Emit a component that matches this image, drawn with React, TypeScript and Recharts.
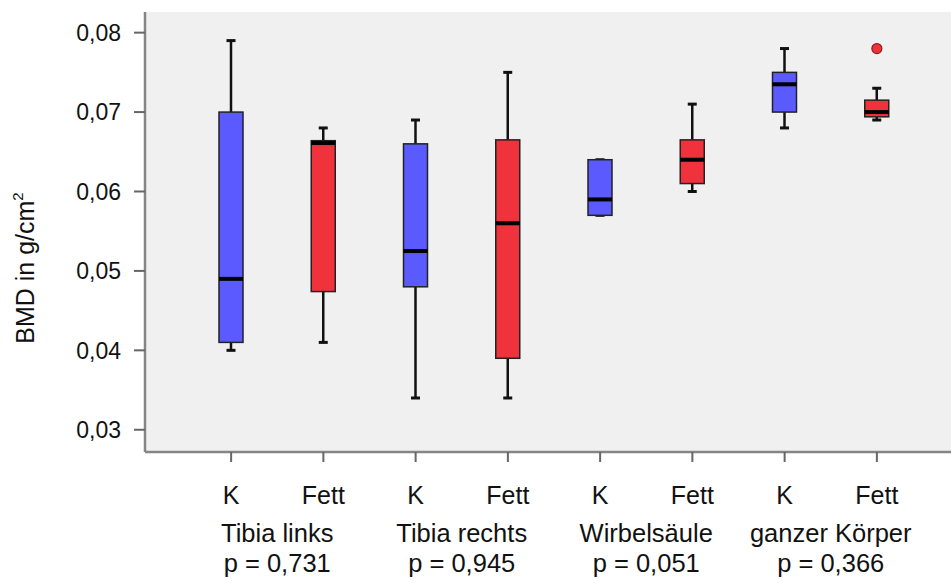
import React from 'react';
import {
  ComposedChart,
  Bar,
  Scatter,
  XAxis,
  YAxis,
  CartesianGrid,
} from 'recharts';

const categories = ['K', 'Fett', 'K', 'Fett', 'K', 'Fett', 'K', 'Fett'];
const groups = ['Tibia links', 'Tibia rechts', 'Wirbelsäule', 'ganzer Körper'];
const pValues = ['p = 0,731', 'p = 0,945', 'p = 0,051', 'p = 0,366'];

const whiskerLow = [0.04, 0.041, 0.034, 0.034, 0.057, 0.06, 0.068, 0.069];
const q1 = [0.041, 0.0474, 0.048, 0.039, 0.057, 0.061, 0.07, 0.0694];
const median = [0.049, 0.0661, 0.0525, 0.056, 0.059, 0.064, 0.0735, 0.07];
const q3 = [0.07, 0.0664, 0.066, 0.0665, 0.064, 0.0665, 0.075, 0.0715];
const whiskerHigh = [0.079, 0.068, 0.069, 0.075, 0.064, 0.071, 0.078, 0.073];
const outliers: (number | undefined)[] = [undefined, undefined, undefined, undefined, undefined, undefined, undefined, 0.078];

const yTicks = [0.03, 0.04, 0.05, 0.06, 0.07, 0.08];

const BLUE = '#5a5aff';
const RED = '#f0323c';
const FONT = '"Liberation Sans", Arial, sans-serif';

const data = categories.map((c, i) => ({
  key: `${c}-${i}`,
  label: c,
  low: whiskerLow[i],
  q1: q1[i],
  median: median[i],
  q3: q3[i],
  high: whiskerHigh[i],
  outlier: outliers[i],
  color: i % 2 === 0 ? BLUE : RED,
}));

const BoxShape = (props: any) => {
  const { x, y, width, height, payload } = props;
  const top = Math.min(y, y + height);
  const h = Math.abs(height);
  const k = h / (payload.q3 - payload.q1);
  const py = (v: number) => top + (payload.q3 - v) * k;
  const cx = x + width / 2;
  const cap = 4.5;
  return (
    <g>
      <line x1={cx} x2={cx} y1={py(payload.high)} y2={top} stroke="#111" strokeWidth={2.5} />
      <line x1={cx} x2={cx} y1={top + h} y2={py(payload.low)} stroke="#111" strokeWidth={2.5} />
      <line x1={cx - cap} x2={cx + cap} y1={py(payload.high)} y2={py(payload.high)} stroke="#111" strokeWidth={3} />
      <line x1={cx - cap} x2={cx + cap} y1={py(payload.low)} y2={py(payload.low)} stroke="#111" strokeWidth={3} />
      <rect x={x} y={top} width={width} height={h} fill={payload.color} stroke="#222" strokeWidth={1.5} />
      <line x1={x} x2={x + width} y1={py(payload.median)} y2={py(payload.median)} stroke="#000" strokeWidth={4} />
    </g>
  );
};

const OutlierDot = (props: any) => {
  const { cx, cy } = props;
  if (cx == null || cy == null || props.payload.outlier == null) return null;
  return <circle cx={cx} cy={cy} r={5} fill={RED} stroke="#8a2020" strokeWidth={1.2} />;
};

const XTick = (props: any) => {
  const { x, y, payload } = props;
  const i = payload.index;
  const step = 92.2;
  return (
    <g>
      <text x={x} y={y + 40} textAnchor="middle" fontSize={25} fill="#111" fontFamily={FONT}>
        {categories[i]}
      </text>
      {i % 2 === 0 && (
        <>
          <text x={x + step / 2} y={y + 78} textAnchor="middle" fontSize={25.5} fill="#111" fontFamily={FONT}>
            {groups[i / 2]}
          </text>
          <text x={x + step / 2} y={y + 108} textAnchor="middle" fontSize={25.5} fill="#111" fontFamily={FONT}>
            {pValues[i / 2]}
          </text>
        </>
      )}
    </g>
  );
};

const YLabel = () => (
  <text
    x={34}
    y={268}
    transform="rotate(-90 34 268)"
    textAnchor="middle"
    fontSize={25}
    fill="#111"
    fontFamily={FONT}
  >
    BMD in g/cm<tspan fontSize={15} dy={-11}>2</tspan>
  </text>
);

export default function App() {
  return (
    <div style={{ position: 'fixed', left: 0, top: 0, width: 951, height: 583, overflow: 'hidden', background: '#fff' }}>
      <ComposedChart
        width={963}
        height={583}
        data={data}
        margin={{ top: 12, right: 0, left: 0, bottom: 0 }}
        barCategoryGap={0}
      >
        <CartesianGrid fill="#f0f0f0" horizontal={false} vertical={false} />
        <XAxis
          dataKey="key"
          xAxisId="top"
          orientation="top"
          height={0}
          tick={false}
          tickLine={false}
          axisLine={{ stroke: '#858585', strokeWidth: 2.5 }}
          padding={{ left: 40, right: 40 }}
        />
        <XAxis
          dataKey="key"
          height={131}
          interval={0}
          padding={{ left: 40, right: 40 }}
          axisLine={{ stroke: '#858585', strokeWidth: 2.5 }}
          tickLine={{ stroke: '#666', strokeWidth: 2 }}
          tickSize={10}
          tick={<XTick />}
        />
        <YAxis
          width={145}
          domain={[0.0272, 0.0826]}
          ticks={yTicks}
          allowDataOverflow
          axisLine={{ stroke: '#858585', strokeWidth: 2.5 }}
          tickLine={{ stroke: '#666', strokeWidth: 2 }}
          tickSize={11}
          tickMargin={13}
          tick={{ fontSize: 23, fill: '#111', fontFamily: FONT }}
          tickFormatter={(v: number) => v.toFixed(2).replace('.', ',')}
          label={<YLabel />}
        />
        <Bar
          dataKey={(d: any) => [d.q1, d.q3]}
          barSize={24}
          shape={<BoxShape />}
          isAnimationActive={false}
        />
        <Scatter dataKey="outlier" shape={<OutlierDot />} isAnimationActive={false} />
      </ComposedChart>
    </div>
  );
}
